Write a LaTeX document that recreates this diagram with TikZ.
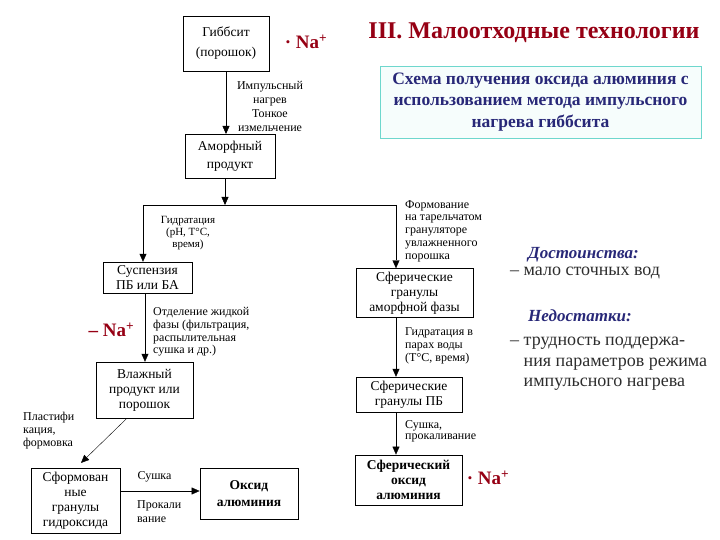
\documentclass[tikz,border=0pt]{standalone}
\usepackage{fontspec}
\setmainfont{Liberation Serif}
\usetikzlibrary{arrows.meta}
\definecolor{titlered}{RGB}{150,0,20}
\definecolor{schemeblue}{RGB}{40,40,120}
\definecolor{frameaqua}{RGB}{110,215,205}
\definecolor{textgray}{RGB}{45,45,45}
\tikzset{
  procbox/.style  = {draw, thin, align=center, inner sep=2pt,
                     font=\fontsize{13.5}{15}\selectfont},
  finalbox/.style = {procbox, thick, font=\bfseries\fontsize{13.5}{15}\selectfont},
  steplbl/.style  = {inner sep=0pt, font=\fontsize{12}{12.7}\selectfont},
  flowar/.style   = {-{Triangle[length=8pt,width=7pt]}, thin},
  ionlbl/.style   = {inner sep=0pt, text=titlered, font=\bfseries\fontsize{19}{21}\selectfont},
  sidetxt/.style  = {anchor=west, align=left, inner sep=0pt, text=textgray,
                     font=\fontsize{18}{20.5}\selectfont},
  sidehead/.style = {sidetxt, text=schemeblue, font=\bfseries\itshape\fontsize{17}{19}\selectfont}
}

\begin{document}
\begin{tikzpicture}[x=1pt,y=-1pt]
  \useasboundingbox (0,0) rectangle (720,540);

  % heading and caption
  \node[text=titlered, font=\bfseries\fontsize{24}{26}\selectfont] (title) at (534,33)
       {III. Малоотходные технологии};
  \node[draw=frameaqua, fill=frameaqua!6, minimum width=321pt, minimum height=72pt,
        align=center, text=schemeblue, font=\bfseries\fontsize{17.5}{21.5}\selectfont]
       (caption) at (540.5,102)
       {Схема получения оксида алюминия с\\использованием метода импульсного\\нагрева гиббсита};

  % process boxes
  \node[procbox, minimum width=86pt, minimum height=55pt] (gibbs) at (226,43.5)
       {Гиббсит\\[5pt](порошок)};
  \node[procbox, minimum width=90pt, minimum height=44pt, anchor=north] (amorph) at (230,134)
       {Аморфный\\[3pt]продукт};
  \node[procbox, minimum width=89pt, minimum height=31pt] (susp) at (147.5,277.5)
       {Суспензия\\ПБ или БА};
  \node[procbox, minimum width=117pt, minimum height=49pt] (sfam) at (414.5,293)
       {Сферические\\гранулы\\аморфной фазы};
  \node[procbox, minimum width=97pt, minimum height=56pt] (wet) at (144.5,390)
       {Влажный\\продукт или\\порошок};
  \node[procbox, minimum width=89pt, minimum height=65pt] (shaped) at (75.5,500.5)
       {Сформован\\ные\\гранулы\\гидроксида};
  \node[finalbox, minimum width=98pt, minimum height=51pt] (oxide) at (249,493.5)
       {Оксид\\[2pt]алюминия};
  \node[procbox, minimum width=106pt, minimum height=35pt] (sfpb) at (409,394.5)
       {Сферические\\гранулы ПБ};
  \node[finalbox, minimum width=107pt, minimum height=50pt] (sfox) at (408.5,480)
       {Сферический\\оксид\\алюминия};

  % Na+ marks
  \node[ionlbl] (naA) at (306,42) {· Na\textsuperscript{+}};
  \node[ionlbl] (naB) at (111.5,330) {– Na\textsuperscript{+}};
  \node[ionlbl] (naC) at (488,478) {· Na\textsuperscript{+}};

  % step labels
  \node[steplbl, align=center, font=\fontsize{12}{14}\selectfont] (pulse) at (270,106)
       {Импульсный\\нагрев\\Тонкое\\измельчение};
  \node[steplbl, align=center, font=\fontsize{11}{11.7}\selectfont] (hydr) at (188,233)
       {Гидратация\\(pH, T°C,\\время)};
  \node[steplbl, align=left, anchor=west] (form) at (405,231)
       {Формование\\на тарельчатом\\грануляторе\\увлажненного\\порошка};
  \node[steplbl, align=left, anchor=west] (sep) at (153,332)
       {Отделение жидкой\\фазы (фильтрация,\\распылительная\\сушка и др.)};
  \node[steplbl, align=left, anchor=west, font=\fontsize{12}{13}\selectfont] (plast) at (23,431)
       {Пластифи\\кация,\\формовка};
  \node[steplbl] (dry) at (154.5,477) {Сушка};
  \node[steplbl, align=left, anchor=west, font=\fontsize{12}{14}\selectfont] (calc) at (137,511.5)
       {Прокали\\вание};
  \node[steplbl, align=left, anchor=west, font=\fontsize{12}{13}\selectfont] (hydr2) at (405,346)
       {Гидратация в\\парах воды\\(T°C, время)};
  \node[steplbl, align=left, anchor=west, font=\fontsize{12}{11.5}\selectfont] (bake) at (405,431.5)
       {Сушка,\\прокаливание};

  % pros and cons
  \node[sidehead] (proshead) at (528,255) {Достоинства:};
  \node[sidetxt] (pros) at (510,273) {– мало сточных вод};
  \node[sidehead] (conshead) at (528,316) {Недостатки:};
  \node[sidetxt] (cons) at (510,364)
       {– трудность поддержа-\\\phantom{– }ния параметров режима\\\phantom{– }импульсного нагрева};

  % connectors
  \coordinate (split) at (225,205);
  \coordinate (splitL) at (143,205);
  \coordinate (splitR) at (396,205);
  \draw[flowar] (gibbs) -- (gibbs |- amorph.north);
  \draw[flowar] (amorph.south -| split) -- (split);
  \draw (splitL) -- (splitR);
  \draw[flowar] (splitL) -- (splitL |- susp.north);
  \draw[flowar] (splitR) -- (splitR |- sfam.north);
  \draw[flowar] (susp.south -| 145,0) -- (wet.north -| 145,0);
  \draw[flowar, shorten >=7pt] (wet.south -| 127,0) -- (shaped.north -| 76,0);
  \draw[flowar] (shaped.east |- 0,491) -- (oxide.west |- 0,491);
  \draw[flowar] (sfam.south -| 396,0) -- (sfpb.north -| 396,0);
  \draw[flowar] (sfpb.south -| 396,0) -- (sfox.north -| 396,0);
\end{tikzpicture}
\end{document}
